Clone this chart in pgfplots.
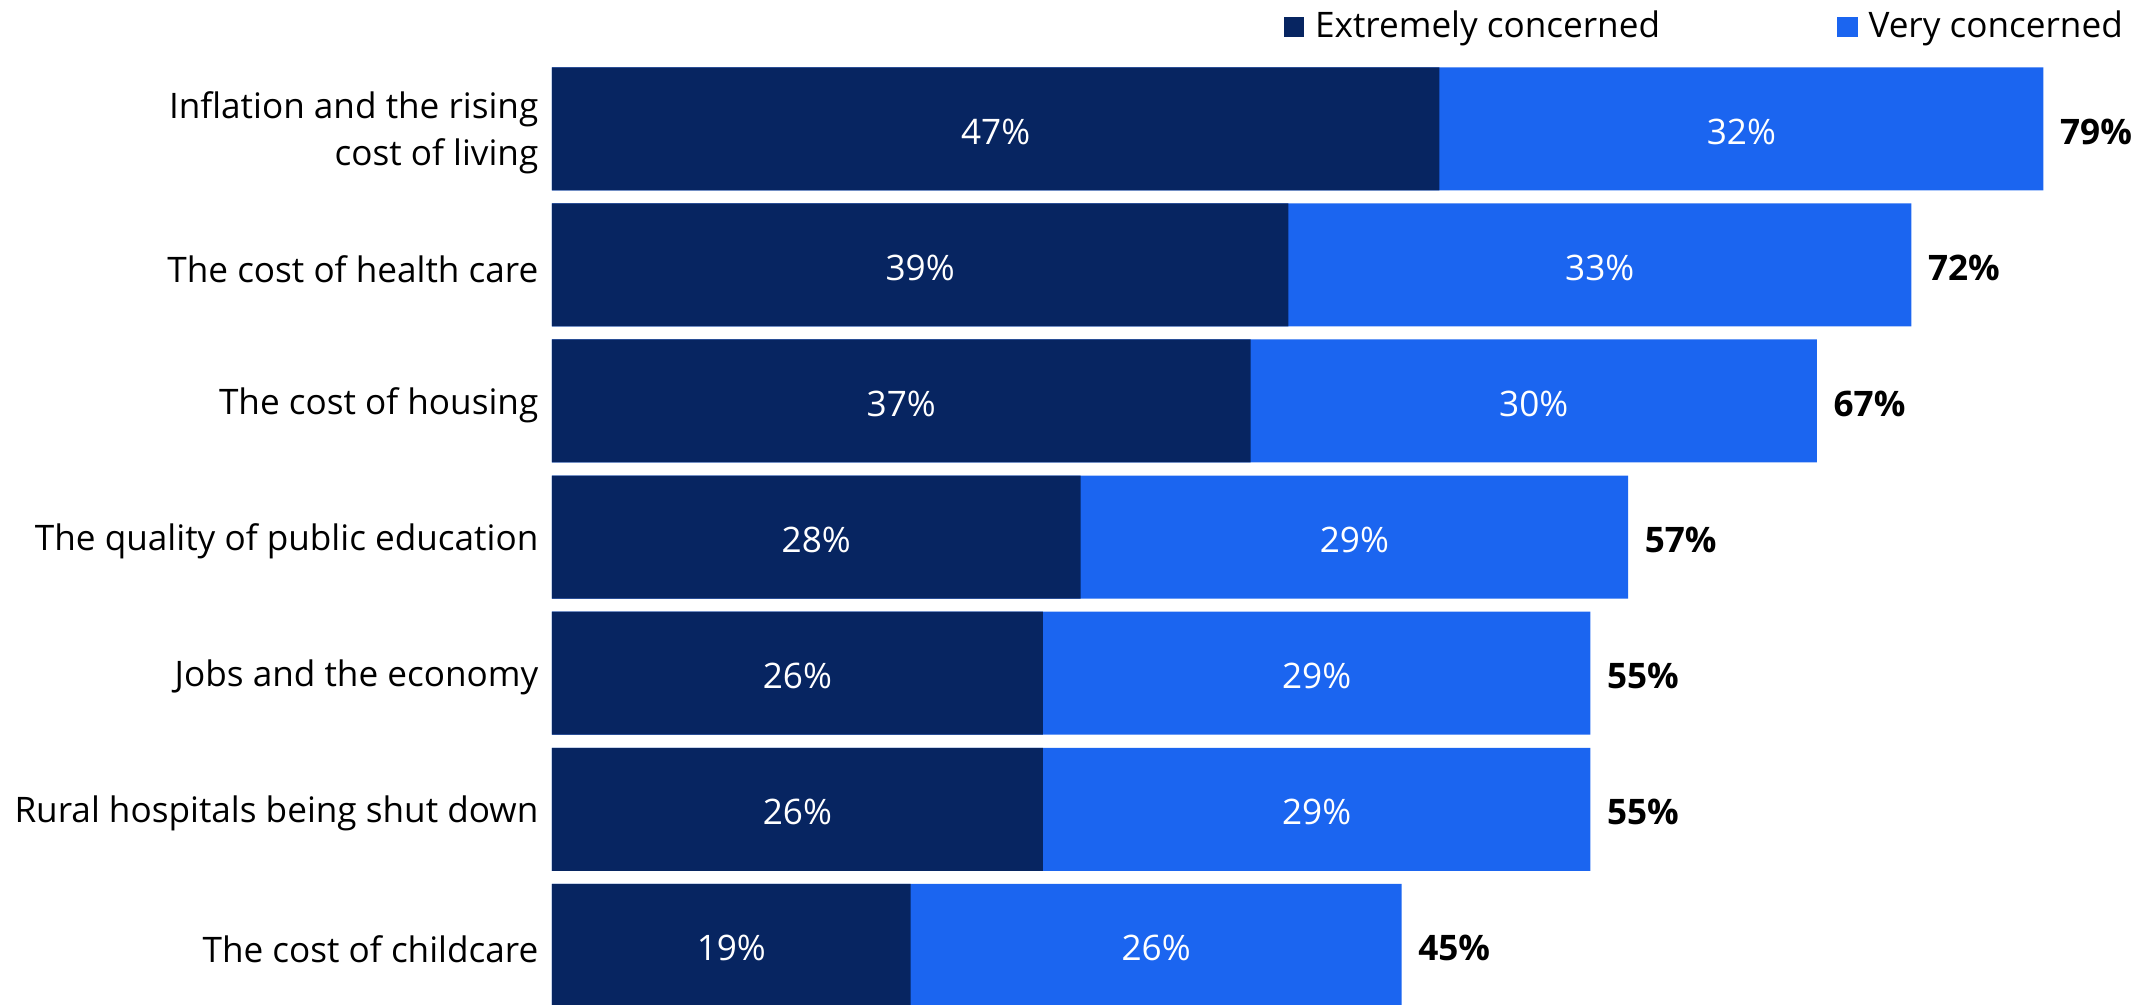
\documentclass[border=0pt]{standalone}
\usepackage{pgfplots}
\pgfplotsset{compat=1.18}
\usepackage{pgfplotstable}
\usepackage{fontspec}
\setmainfont{Open Sans}
\definecolor{darkc}{RGB}{7,37,97}
\definecolor{bluec}{RGB}{27,101,240}
\pgfplotstableread{
y ext very
0 47 32
1 39 33
2 37 30
3 28 29
4 26 29
5 26 29
6 19 26
}\data
\begin{document}
\begin{tikzpicture}
\begin{axis}[name=ax, scale only axis, width=15.97cm, height=10.05cm,
  xmin=0, xmax=84.59, ymin=-0.946, ymax=6.438, y dir=reverse,
  axis line style={draw=none}, xtick=\empty, ytick={0,...,6},
  major tick length=0pt,
  /pgf/number format/assume math mode=true,
  yticklabels={{Inflation and the rising\\cost of living},{The cost of health care},{The cost of housing},{The quality of public education},{Jobs and the economy},{Rural hospitals being shut down},{The cost of childcare}},
  yticklabel style={align=right, anchor=east, inner sep=0pt, xshift=-0.13cm, yshift=-0.04cm, font=\fontsize{10}{13.3}\selectfont, text=black},
  legend style={at={(0.4577,0.973)}, anchor=west, draw=none, fill=none, inner sep=0pt,
    font=\fontsize{10}{12}\selectfont,
    /tikz/every odd column/.append style={column sep=0.04cm},
    /tikz/every even column/.append style={column sep=1.70cm}},
  legend columns=2,
]
\addlegendimage{legend image code/.code={\fill[darkc] (0cm,-0.095cm) rectangle (0.19cm,0.095cm);}}
\addlegendentry{Extremely concerned}
\addlegendimage{legend image code/.code={\fill[bluec] (0cm,-0.095cm) rectangle (0.19cm,0.095cm);}}
\addlegendentry{Very concerned}
\addplot[forget plot, xbar, bar width=1.23cm, bar shift=0pt, fill=bluec, draw=none]
  table[x expr=\thisrow{ext}+\thisrow{very}, y=y]{\data};
\addplot[forget plot, xbar, bar width=1.23cm, bar shift=0pt, fill=darkc, draw=none]
  table[x=ext, y=y]{\data};
\addplot[forget plot, draw=none, mark=none, point meta=explicit,
  nodes near coords={\pgfmathprintnumber{\pgfplotspointmeta}\%},
  nodes near coords style={anchor=center, yshift=-0.03cm, text=white, font=\fontsize{10}{12}\selectfont}]
  table[x expr=\thisrow{ext}/2, y=y, meta=ext]{\data};
\addplot[forget plot, draw=none, mark=none, point meta=explicit,
  nodes near coords={\pgfmathprintnumber{\pgfplotspointmeta}\%},
  nodes near coords style={anchor=center, yshift=-0.03cm, text=white, font=\fontsize{10}{12}\selectfont}]
  table[x expr=\thisrow{ext}+\thisrow{very}/2, y=y, meta=very]{\data};
\addplot[forget plot, draw=none, mark=none, point meta=x,
  nodes near coords={\pgfmathprintnumber{\pgfplotspointmeta}\%},
  nodes near coords style={anchor=west, inner sep=0pt, xshift=0.16cm, yshift=-0.03cm, text=black, font=\bfseries\fontsize{10}{12}\selectfont}]
  table[x expr=\thisrow{ext}+\thisrow{very}, y=y]{\data};
\end{axis}
\pgfresetboundingbox
\path ([xshift=-5.52cm]ax.south west) rectangle (ax.north east);
\end{tikzpicture}
\end{document}
